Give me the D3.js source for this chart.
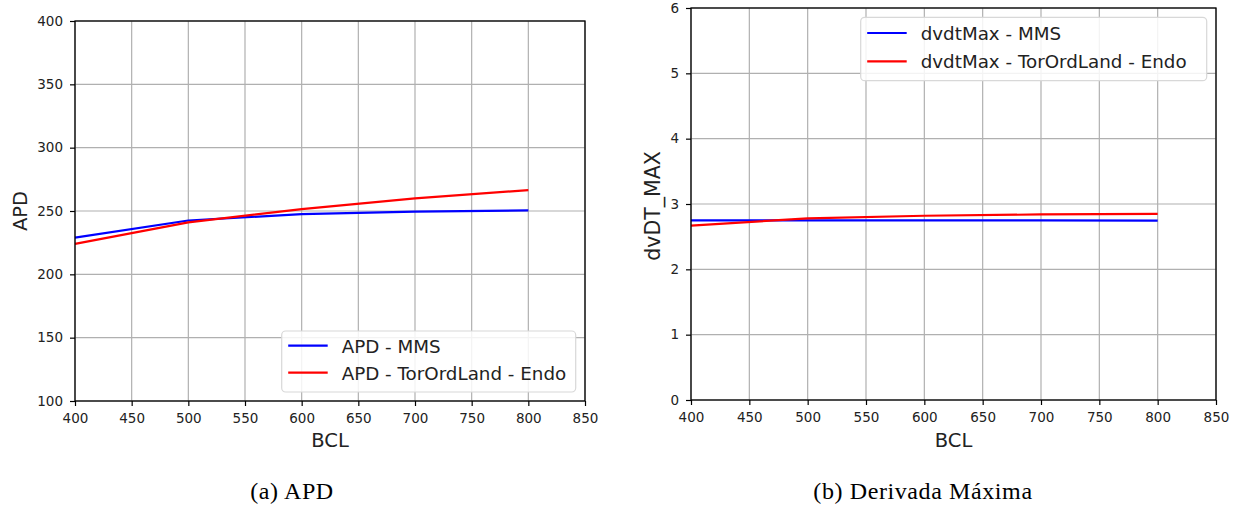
<!DOCTYPE html>
<html>
<head>
<meta charset="utf-8">
<script src="https://cdn.jsdelivr.net/npm/d3@7"></script>
<style>
body { margin: 0; background: #fff; }
.tick text { font-family: "DejaVu Sans", sans-serif; font-size: 13.5px; fill: #222; }
</style>
</head>
<body>
<svg id="svg"></svg>
<script>
var width = 1245, height = 507;
var svg = d3.select("#svg")
	.attr("width", width)
	.attr("height", height);

// data
var bcl = [400, 500, 600, 700, 800];
var apdMMS = [229, 242.5, 247.5, 249.5, 250.5];
var apdTor = [224, 241, 251.5, 260, 266.5];
var dvdtMMS = [2.75, 2.75, 2.75, 2.75, 2.745];
var dvdtTor = [2.67, 2.78, 2.82, 2.84, 2.85];
var xTicks = [400, 450, 500, 550, 600, 650, 700, 750, 800, 850];
var apdTicks = [100, 150, 200, 250, 300, 350, 400];
var dvdtTicks = [0, 1, 2, 3, 4, 5, 6];
var apdNames = ["APD - MMS", "APD - TorOrdLand - Endo"];
var dvdtNames = ["dvdtMax - MMS", "dvdtMax - TorOrdLand - Endo"];
var captions = ["(a) APD", "(b) Derivada Máxima"];

var colors = ["#0000ff", "#ff0000"];

function panel(opt)
{
	var x = d3.scaleLinear().domain([400, 850]).range([opt.left, opt.right]);
	var y = d3.scaleLinear().domain(opt.yDomain).range([opt.bottom, opt.top]);
	var g = svg.append("g");

	// grid
	g.selectAll(".gx").data(xTicks).enter().append("line")
		.attr("x1", function(d) { return x(d); })
		.attr("x2", function(d) { return x(d); })
		.attr("y1", opt.top).attr("y2", opt.bottom)
		.attr("stroke", "#b0b0b0").attr("stroke-width", 1.2);
	g.selectAll(".gy").data(opt.yTicks).enter().append("line")
		.attr("y1", function(d) { return y(d); })
		.attr("y2", function(d) { return y(d); })
		.attr("x1", opt.left).attr("x2", opt.right)
		.attr("stroke", "#b0b0b0").attr("stroke-width", 1.2);

	// lines
	var line = d3.line()
		.x(function(d, i) { return x(bcl[i]); })
		.y(function(d) { return y(d); });
	opt.series.forEach(function(s, i) {
		g.append("path")
			.attr("fill", "none")
			.attr("stroke", colors[i])
			.attr("stroke-width", 2.2)
			.attr("stroke-linejoin", "round")
			.attr("d", line(s));
	});

	// frame
	g.append("rect")
		.attr("x", opt.left).attr("y", opt.top)
		.attr("width", opt.right - opt.left)
		.attr("height", opt.bottom - opt.top)
		.attr("fill", "none").attr("stroke", "#000").attr("stroke-width", 1.3);

	var xAxis = d3.axisBottom(x).tickValues(xTicks).tickFormat(d3.format("d"))
		.tickSize(5).tickPadding(7.3);
	var yAxis = d3.axisLeft(y).tickValues(opt.yTicks).tickFormat(d3.format("d"))
		.tickSize(5).tickPadding(7);

	g.append("g")
		.attr("transform", "translate(0," + opt.bottom + ")")
		.call(xAxis)
		.call(function(a) { a.select(".domain").remove(); a.selectAll("line").attr("stroke", "#000").attr("stroke-width", 1.2); });
	g.append("g")
		.attr("transform", "translate(" + opt.left + ",0)")
		.call(yAxis)
		.call(function(a) { a.select(".domain").remove(); a.selectAll("line").attr("stroke", "#000").attr("stroke-width", 1.2); });

	// axis labels
	g.append("text")
		.attr("x", (opt.left + opt.right) / 2)
		.attr("y", 446.7)
		.attr("text-anchor", "middle")
		.attr("font-family", "DejaVu Sans")
		.attr("font-size", "19.5px")
		.attr("fill", "#222")
		.text("BCL");
	g.append("text")
		.attr("transform", "translate(" + opt.yLabelX + "," + opt.yLabelY + ") rotate(-90)")
		.attr("text-anchor", "middle")
		.attr("font-family", "DejaVu Sans")
		.attr("font-size", opt.yLabelSize)
		.attr("fill", "#222")
		.text(opt.yLabel);

	// legend
	var L = opt.legend;
	g.append("rect")
		.attr("x", L.x).attr("y", L.y)
		.attr("width", L.w).attr("height", L.h)
		.attr("rx", 4)
		.attr("fill", "#fff").attr("fill-opacity", 0.85)
		.attr("stroke", "#d8d8d8").attr("stroke-width", 1.2);
	opt.names.forEach(function(n, i) {
		var ry = L.rows[i];
		g.append("line")
			.attr("x1", L.x + 6.5).attr("x2", L.x + 46)
			.attr("y1", ry).attr("y2", ry)
			.attr("stroke", colors[i]).attr("stroke-width", 2.2);
		g.append("text")
			.attr("x", L.x + 60)
			.attr("y", ry + 6.8)
			.attr("font-family", "DejaVu Sans")
			.attr("font-size", "18.3px")
			.attr("fill", "#222")
			.text(n);
	});

	// caption
	svg.append("text")
		.attr("x", opt.capX)
		.attr("y", 499)
		.attr("text-anchor", "middle")
		.attr("font-family", "Liberation Serif, serif")
		.attr("font-size", "24px")
		.attr("letter-spacing", "0.6px")
		.attr("fill", "#000")
		.text(opt.caption);
}

panel({
	left: 75, right: 585, top: 21, bottom: 401,
	yDomain: [100, 400], yTicks: apdTicks,
	series: [apdMMS, apdTor], names: apdNames,
	yLabel: "APD", yLabelX: 26.7, yLabelY: 211, yLabelSize: "19.5px",
	legend: { x: 281.7, y: 331, w: 294, h: 61, rows: [345.7, 372.7] },
	caption: captions[0], capX: 292
});

panel({
	left: 691, right: 1216, top: 8, bottom: 400,
	yDomain: [0, 6], yTicks: dvdtTicks,
	series: [dvdtMMS, dvdtTor], names: dvdtNames,
	yLabel: "dvDT_MAX", yLabelX: 660, yLabelY: 206, yLabelSize: "20.5px",
	legend: { x: 860.7, y: 17.3, w: 346, h: 63.4, rows: [33, 61.3] },
	caption: captions[1], capX: 923
});
</script>
</body>
</html>
